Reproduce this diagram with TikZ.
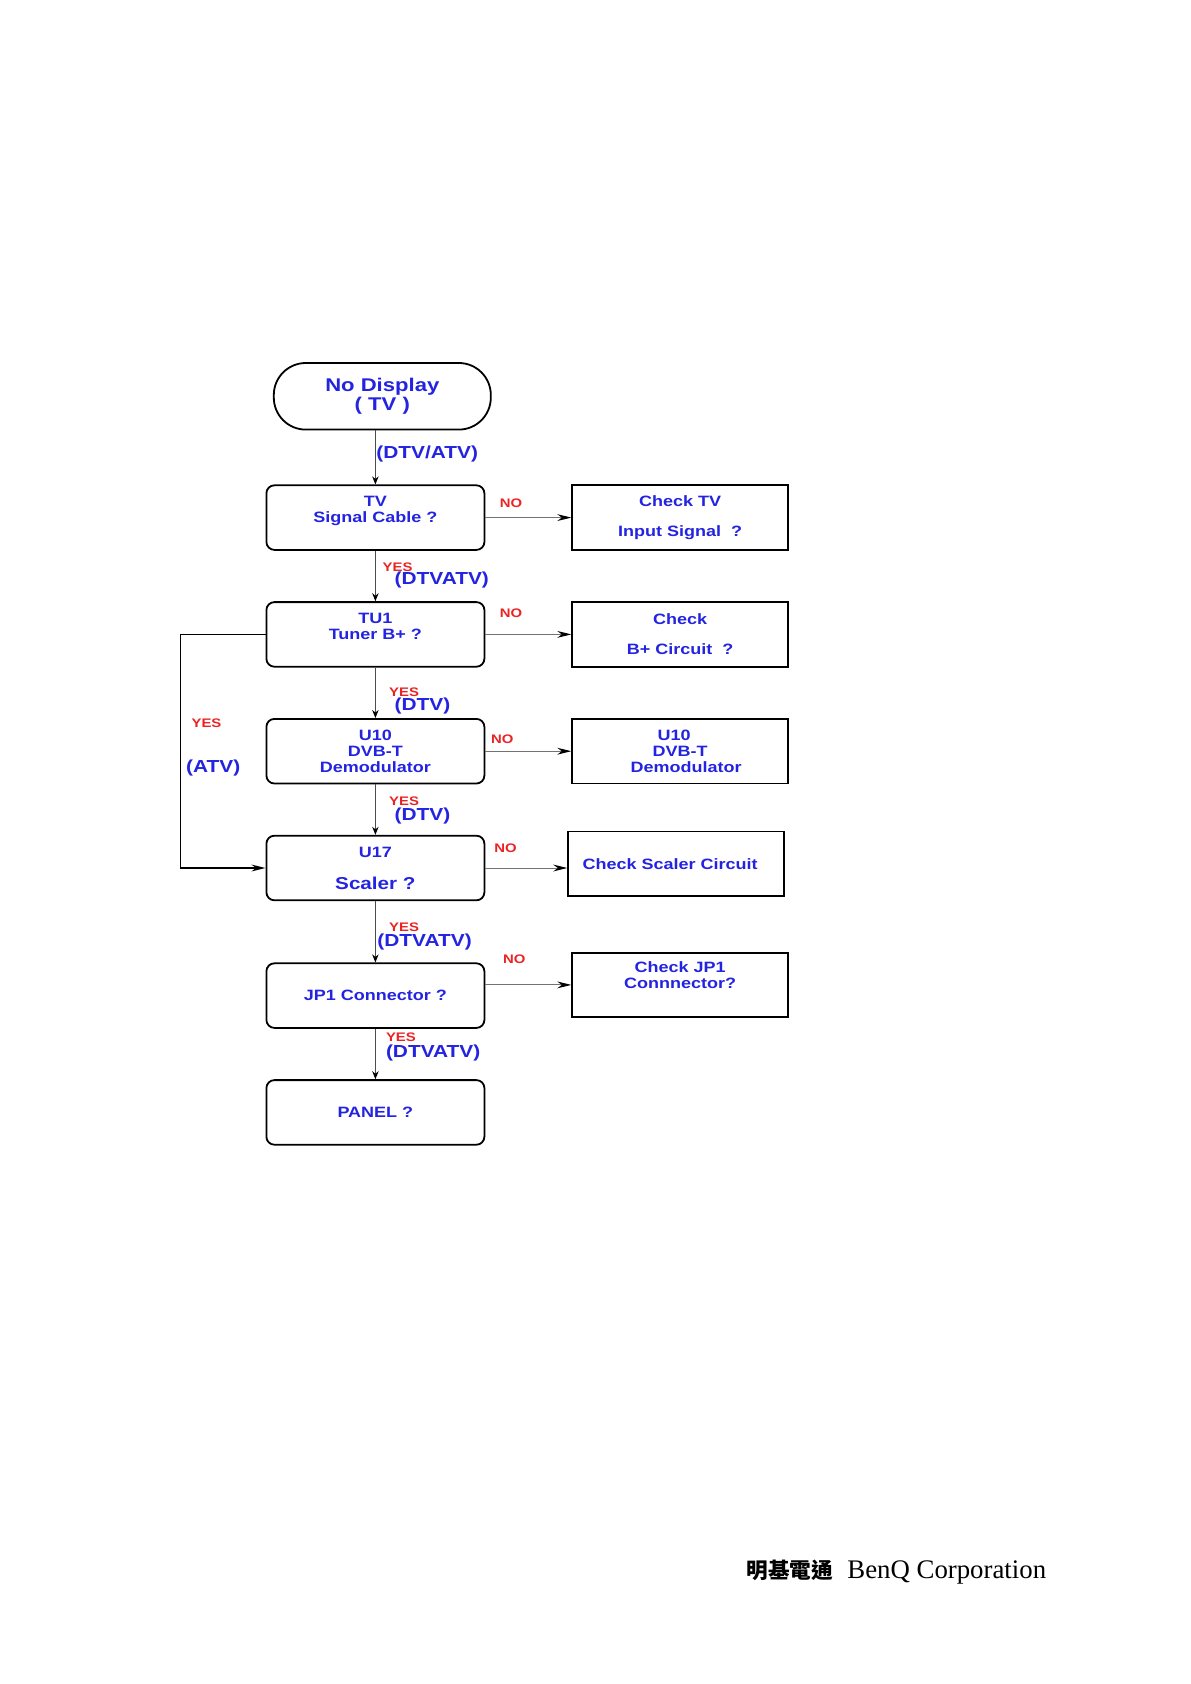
\documentclass[tikz,border=0pt]{standalone}
\usepackage{fontspec}
\setmainfont{Liberation Sans}
\newfontfamily\flowfont{Liberation Sans}[FakeStretch=1.2]
\newfontfamily\serifft{Liberation Serif}
\newfontfamily\cjk{Noto Sans CJK TC}
\usetikzlibrary{arrows.meta,positioning}
\definecolor{tvblue}{RGB}{35,35,225}
\definecolor{tvred}{RGB}{235,35,35}

\begin{document}
\begin{tikzpicture}[x=0.5pt, y=-0.5pt,
  box/.style={draw, rounded corners=4pt, line width=0.9pt, minimum width=109pt, minimum height=32.3pt, align=center, inner sep=1pt, text=tvblue, font=\flowfont\bfseries\fontsize{7.5}{8}\selectfont},
  chk/.style={box, sharp corners, minimum width=108pt},
  yes/.style={anchor=west, inner sep=0pt, text=tvred, font=\flowfont\bfseries\fontsize{6.2}{6.2}\selectfont},
  no/.style={yes},
  mode/.style={anchor=west, inner sep=0pt, text=tvblue, font=\flowfont\bfseries\fontsize{8.7}{8.7}\selectfont},
  arr/.style={-{Stealth[length=4pt,width=3.2pt,black]}, line width=0.5pt, draw=black!70},
  noarr/.style={-{Stealth[length=7pt,width=3.4pt,black]}, line width=0.5pt, draw=black!55}]
  \useasboundingbox (0,0) rectangle (1190,1684);

  % main column
  \node[box, rounded corners=16pt, minimum width=108.5pt, minimum height=33.3pt, font=\flowfont\bfseries\fontsize{9.2}{9.5}\selectfont] (start) at (382.3,396.3) {No Display\\( TV )};
  \node[box] (cable) at (375.4,517.6) {TV\\Signal Cable ?\\ \mbox{}};
  \node[box, below=25.2pt of cable] (tuner) {TU1\\Tuner B+ ?\\ \mbox{}};
  \node[box, below=25.2pt of tuner] (demod) {U10\\DVB-T\\Demodulator};
  \node[box, below=25.2pt of demod] (scaler) {U17\\[8pt]{\fontsize{8.6}{8.6}\selectfont Scaler ?}};
  \node[box, below=30.6pt of scaler] (jp1) {JP1 Connector ?};
  \node[box, below=25.2pt of jp1] (panel) {PANEL ?};

  % check boxes
  \node[chk, right=43pt of cable] (chkcable) {Check TV\\[7pt]Input Signal~ ?};
  \node[chk, right=43pt of tuner] (chkbplus) {Check\\[7pt]B+ Circuit~ ?};
  \node[chk, right=43pt of demod] (chkdemod) {U10\hspace*{6pt}\\DVB-T\hspace*{6pt}\\\hspace*{6pt}Demodulator};
  \node[chk, right=41pt of scaler, yshift=2.15pt] (chkscaler) {Check Scaler Circuit\hspace*{6pt}};
  \node[chk, right=43pt of jp1, yshift=5.35pt] (chkjp1) {Check JP1\\Connnector?\\[2pt] \mbox{}};

  % connectors
  \draw[arr] (start.south -| cable.north) -- (cable.north);
  \draw[arr] (cable.south) -- (tuner.north);
  \draw[arr] (tuner.south) -- (demod.north);
  \draw[arr] (demod.south) -- (scaler.north);
  \draw[arr] (scaler.south) -- (jp1.north);
  \draw[arr] (jp1.south) -- (panel.north);
  \draw[noarr] (cable.east) -- (cable.east -| chkcable.west);
  \draw[noarr] (tuner.east) -- (tuner.east -| chkbplus.west);
  \draw[noarr] (demod.east) -- (demod.east -| chkdemod.west);
  \draw[noarr] (scaler.east) -- (scaler.east -| chkscaler.west);
  \draw[noarr] (chkjp1.west -| jp1.east) -- (chkjp1.west);
  \coordinate (bend) at (180.4,0);
  \draw[noarr, draw=black, line width=0.7pt] (tuner.west) -- (tuner.west -| bend) -- (scaler.west -| bend) -- (scaler.west);

  % labels
  \node[mode] (dtvatv0) at (376,454.3) {(DTV/ATV)};
  \node[no] (no1) at (499.4,503.7) {NO};
  \node[yes] (yes1) at (382.3,567) {YES};
  \node[mode] (dtvatv1) at (394.2,580) {(DTVATV)};
  \node[no] (no2) at (499.4,613.3) {NO};
  \node[yes] (yes2) at (388.8,692.7) {YES};
  \node[mode] (dtv2) at (394.2,705.6) {(DTV)};
  \node[yes] (yesatv) at (191.2,722.8) {YES};
  \node[mode] (atv) at (185.8,768) {(ATV)};
  \node[no] (no3) at (490.8,739) {NO};
  \node[yes] (yes3) at (388.8,801.2) {YES};
  \node[mode] (dtv3) at (394.2,816.2) {(DTV)};
  \node[no] (no4) at (494,848.5) {NO};
  \node[yes] (yes4) at (388.8,926.9) {YES};
  \node[mode] (dtvatv4) at (377,941.9) {(DTVATV)};
  \node[no] (no5) at (502.6,959) {NO};
  \node[yes] (yes5) at (385.6,1037.5) {YES};
  \node[mode] (dtvatv5) at (385.6,1052.5) {(DTVATV)};

  % footer
  \node[anchor=base west, inner sep=0pt, font=\cjk\bfseries\fontsize{10.8}{10.8}\selectfont] (benqcn) at (746,1578) {明基電通};
  \node[anchor=base west, inner sep=0pt, font=\serifft\fontsize{13.4}{13.4}\selectfont] (benqen) at (847,1578) {BenQ Corporation};
\end{tikzpicture}
\end{document}
